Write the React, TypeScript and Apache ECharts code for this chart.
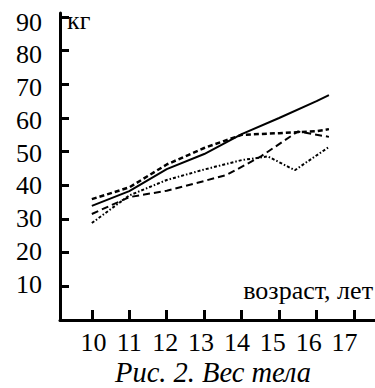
import React, { useEffect, useRef } from "react";
import * as echarts from "echarts";

// Axis ticks / labels
const ageTicks = [10, 11, 12, 13, 14, 15, 16, 17];
const weightTicks = [10, 20, 30, 40, 50, 60, 70, 80, 90];

// Series values (age, kg)
const lineAAges = [10, 11, 12, 13, 14, 15, 16, 16.33];
const lineAKg = [35.9, 39.4, 46.2, 51.1, 55.0, 55.5, 56.1, 56.7];

const lineBAges = [10, 11, 12, 13, 14, 15, 16, 16.33];
const lineBKg = [33.9, 38.3, 44.8, 49.3, 55.2, 60.0, 65.0, 66.8];

const lineCAges = [10, 11, 12, 13, 14, 14.7, 15.42, 16.33];
const lineCKg = [28.8, 37.0, 41.6, 44.7, 47.5, 48.6, 44.5, 51.4];

const lineDAges = [10, 11, 12, 13, 13.6, 14.5, 15.5, 16.33];
const lineDKg = [31.5, 36.5, 38.4, 41.3, 43.1, 48.5, 56.0, 54.4];

const FONT = "Times New Roman, Liberation Serif, DejaVu Serif, serif";

const zip = (xs: number[], ys: number[]) => xs.map((x, i) => [x, ys[i]]);

export default function App() {
  const ref = useRef<HTMLDivElement>(null);

  useEffect(() => {
    if (!ref.current) return;
    const chart = echarts.init(ref.current, null, { renderer: "svg" });
    const line = (name: string, data: number[][], type: any, width: number) => ({
      name,
      type: "line",
      xAxisIndex: 0,
      yAxisIndex: 0,
      data,
      showSymbol: false,
      symbol: "none",
      silent: true,
      lineStyle: { color: "#000", width, type },
    });
    const labelStyle = { fontSize: 26, fontFamily: FONT, color: "#000" };
    chart.setOption({
      animation: false,
      textStyle: { fontFamily: FONT },
      grid: { left: 60, right: 0, top: 13, bottom: 68 },
      xAxis: [
        {
          type: "value",
          min: 9.15,
          max: 17.56,
          axisLine: { show: true, lineStyle: { color: "#000", width: 3 } },
          axisTick: {
            show: true,
            inside: true,
            length: 10,
            lineStyle: { color: "#000", width: 3 },
            customValues: ageTicks,
          },
          axisLabel: { show: false },
          splitLine: { show: false },
        },
        {
          // label-only axis (the printed labels sit on a slightly tighter scale)
          type: "value",
          position: "bottom",
          min: 9.066,
          max: 17.85,
          axisLine: { show: false },
          axisTick: { show: false },
          axisLabel: { customValues: ageTicks, margin: 9, ...labelStyle },
          splitLine: { show: false },
        },
      ],
      yAxis: [
        {
          type: "value",
          min: 0,
          max: 91.2,
          axisLine: { show: true, lineStyle: { color: "#000", width: 3 } },
          axisTick: {
            show: true,
            inside: true,
            length: 9,
            lineStyle: { color: "#000", width: 3 },
            customValues: weightTicks,
          },
          axisLabel: { show: false },
          splitLine: { show: false },
        },
        {
          // label-only axis
          type: "value",
          position: "left",
          min: -0.99,
          max: 92.75,
          axisLine: { show: false },
          axisTick: { show: false },
          axisLabel: { customValues: weightTicks, margin: 18, ...labelStyle },
          splitLine: { show: false },
        },
      ],
      graphic: [
        {
          type: "text",
          left: 67,
          top: 7,
          style: { text: "кг", fontSize: 26, fontFamily: FONT, fill: "#000" },
        },
        {
          type: "text",
          right: 2,
          top: 277,
          style: { text: "возраст, лет", fontSize: 26, fontFamily: FONT, fill: "#000" },
        },
        {
          type: "text",
          left: 115,
          top: 358,
          style: {
            text: "Рис. 2. Вес тела",
            fontSize: 28.5,
            fontStyle: "italic",
            fontFamily: FONT,
            fill: "#000",
          },
        },
      ],
      series: [
        line("A", zip(lineAAges, lineAKg), [5, 3], 2.5),
        line("B", zip(lineBAges, lineBKg), "solid", 2),
        line("C", zip(lineCAges, lineCKg), [3, 2, 1.5, 2], 2),
        line("D", zip(lineDAges, lineDKg), [7, 4], 2),
      ],
    });
    return () => chart.dispose();
  }, []);

  return (
    <div
      ref={ref}
      style={{ position: "fixed", left: 0, top: 0, width: 375, height: 388, background: "#fff" }}
    />
  );
}
